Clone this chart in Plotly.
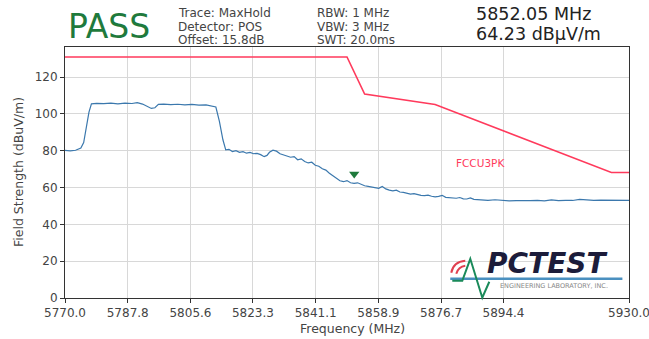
import plotly.graph_objects as go

# ---- data ----
trace_freq = [5770.0, 5771.5, 5773.0, 5774.5, 5775.3, 5776.0, 5776.8, 5777.5, 5779, 5781, 5783, 5785, 5787, 5789,
              5790.5, 5792, 5793.5, 5794.5, 5795.5, 5796.5, 5798, 5800, 5802, 5804, 5806, 5808, 5810, 5812, 5812.8,
              5813.8, 5814.8, 5815.6, 5816.5, 5817.5, 5818.5, 5819.5, 5820.5, 5821.5, 5822.5, 5823.5, 5824.5, 5825.5,
              5826.5, 5827.3, 5828, 5829, 5830, 5831, 5832, 5833, 5834, 5835, 5836, 5837, 5838, 5839, 5840, 5841,
              5842, 5843, 5844, 5845, 5846, 5847, 5848, 5849, 5850, 5851, 5852, 5853, 5854, 5855, 5856, 5857, 5858,
              5859, 5860, 5861, 5862, 5863, 5864, 5865, 5866, 5867, 5868, 5869, 5870, 5871, 5872, 5873, 5874, 5875,
              5876, 5877, 5878, 5879, 5880, 5881, 5882, 5883, 5884, 5885, 5886, 5887, 5888, 5890, 5892, 5894, 5896,
              5898, 5900, 5902, 5904, 5906, 5908, 5910, 5912, 5914, 5916, 5918, 5920, 5922, 5924, 5926, 5928, 5930]
trace_level = [80.2, 80.0, 80.3, 81.5, 84.5, 92, 101, 105.5, 105.8, 105.6, 105.9, 105.5, 105.9, 105.7,
               106.2, 105.4, 104.2, 103.0, 103.4, 105.2, 105.4, 105.1, 105.3, 104.9, 105.2, 104.8, 104.9, 104.2, 103.8,
               96, 86, 80.5, 80.8, 79.6, 80.1, 79.2, 79.5, 78.7, 79.1, 78.4, 78.6, 77.9,
               76.8, 77.5, 79.2, 80.3, 79.8, 78.4, 77.9, 77.2, 76.5, 76.8, 75.1, 75.6, 74.2, 73.4, 73.8, 72.1,
               71.6, 70.2, 69.5, 67.8, 66.4, 65.1, 63.7, 63.2, 63.8, 62.6, 62.3, 62.6, 61.7, 61.0, 60.7, 60.2, 59.9,
               59.6, 60.6, 59.3, 58.6, 58.2, 58.6, 57.6, 57.4, 57.0, 56.5, 56.7, 56.1, 55.8, 55.6, 55.9, 55.3, 55.0,
               55.2, 55.8, 54.7, 54.5, 54.3, 54.2, 54.6, 53.9, 53.8, 54.4, 53.6, 53.5, 53.3, 53.1, 53.4, 52.9, 52.8,
               52.9, 52.7, 52.9, 53.0, 52.8, 53.3, 52.9, 53.1, 53.0, 53.6, 53.1, 53.0, 53.2, 53.1, 53.0, 53.2, 53.1]

limit_freq = [5770, 5850, 5855, 5875, 5925, 5930]
limit_level = [131.0, 131.0, 110.8, 105.2, 68.2, 68.2]

marker_freq = [5852.05]
marker_level = [64.23]

xtick_vals = [5770.0, 5787.8, 5805.6, 5823.3, 5841.1, 5858.9, 5876.7, 5894.4, 5930.0]
xtick_text = ["5770.0", "5787.8", "5805.6", "5823.3", "5841.1", "5858.9", "5876.7", "5894.4", "5930.0"]
ytick_vals = [0, 20, 40, 60, 80, 100, 120]

header_left = ["Trace: MaxHold", "Detector: POS", "Offset: 15.8dB"]
header_mid = ["RBW: 1 MHz", "VBW: 3 MHz", "SWT: 20.0ms"]
header_right = ["5852.05 MHz", "64.23 dBµV/m"]

FONT = "DejaVu Sans"
L, R, T, B = 65, 628.6, 46.7, 298.3
fig = go.Figure()

fig.add_trace(go.Scatter(x=limit_freq, y=limit_level, mode="lines",
                         line=dict(color="#ff3a5c", width=1.6), hoverinfo="skip"))
fig.add_trace(go.Scatter(x=trace_freq, y=trace_level, mode="lines",
                         line=dict(color="#3b78ad", width=1.2)))
fig.add_trace(go.Scatter(x=marker_freq, y=[v + 3.2 for v in marker_level], mode="markers",
                         marker=dict(symbol="triangle-down", size=9, color="#1e7a3c")))

fig.update_layout(
    width=649, height=339,
    margin=dict(l=L, r=649 - R, t=T, b=339 - B, autoexpand=False),
    paper_bgcolor="white", plot_bgcolor="white",
    showlegend=False,
    font=dict(family=FONT, size=12, color="#444"),
)
fig.update_xaxes(range=[5770, 5930], tickvals=xtick_vals, ticktext=xtick_text, automargin=False,
                 ticklabeloverflow="allow",
                 showgrid=True, gridcolor="#d8d8d8", gridwidth=1,
                 showline=True, linecolor="#333", linewidth=1, mirror=True,
                 ticks="outside", ticklen=4, tickcolor="#333",
                 tickfont=dict(size=12, color="#444"),
                 zeroline=False)
fig.update_yaxes(range=[0, 136.4], tickvals=ytick_vals, automargin=False,
                 showgrid=True, gridcolor="#d8d8d8", gridwidth=1,
                 showline=True, linecolor="#333", linewidth=1, mirror=True,
                 ticks="outside", ticklen=4, tickcolor="#333",
                 tickfont=dict(size=12, color="#444"),
                 zeroline=False)

def px(x):
    return (x - L) / (R - L)

def py(y):
    return (B - y) / (B - T)

ann = [dict(text="PASS", x=px(66), y=py(26), xanchor="left", yanchor="middle",
            font=dict(size=33, color="#1f7a3c", family=FONT))]
for i, t in enumerate(header_left):
    ann.append(dict(text=t, x=px(177), y=py(13 + 13.5 * i), xanchor="left", yanchor="middle",
                    font=dict(size=12, color="#444", family=FONT), borderpad=0))
for i, t in enumerate(header_mid):
    ann.append(dict(text=t, x=px(316), y=py(13 + 13.5 * i), xanchor="left", yanchor="middle",
                    font=dict(size=12, color="#444", family=FONT), borderpad=0))
for i, t in enumerate(header_right):
    ann.append(dict(text=t, x=px(475), y=py(13.5 + 20 * i), xanchor="left", yanchor="middle",
                    font=dict(size=17.5, color="#222", family=FONT), borderpad=0))
ann.append(dict(text="Frequency (MHz)", x=px(352), y=py(329), xanchor="center", yanchor="middle",
                font=dict(size=12.5, color="#444", family=FONT), borderpad=0))
ann.append(dict(text="Field Strength (dBuV/m)", x=px(18), y=py(172), xanchor="center", yanchor="middle",
                textangle=-90, font=dict(size=12.5, color="#444", family=FONT)))
ann.append(dict(text="<b><i>PCTEST</i></b>", x=px(486), y=py(264), xanchor="left", yanchor="middle",
                font=dict(size=28, color="#1c1c3a", family=FONT), borderpad=0))
ann.append(dict(text="ENGINEERING LABORATORY, INC.", x=px(498), y=py(286), xanchor="left", yanchor="middle",
                font=dict(size=6.5, color="#888", family=FONT)))
fig.update_layout(annotations=[dict(a, xref="paper", yref="paper", showarrow=False) for a in ann])
fig.add_annotation(text="FCCU3PK", x=5887.8, y=73.1, xref="x", yref="y", showarrow=False,
                   font=dict(size=10.5, color="#ff3a5c", family=FONT))

shapes = [
    dict(type="line", x0=px(450), x1=px(622), y0=py(279), y1=py(279), line=dict(color="#4a90c0", width=2.5)),
    dict(type="path", path="M {} {} L {} {} L {} {} L {} {} L {} {}".format(
        px(452), py(281), px(462), py(281), px(470), py(259), px(482), py(298), px(489), py(282)),
        line=dict(color="#1a8a5a", width=2)),
    dict(type="path", path="M {} {} Q {} {} {} {}".format(px(451), py(273), px(453), py(262), px(465), py(261)),
         line=dict(color="#e04050", width=2)),
    dict(type="path", path="M {} {} Q {} {} {} {}".format(px(456), py(274), px(458), py(267), px(465), py(266)),
         line=dict(color="#e04050", width=2)),
]
fig.update_layout(shapes=[dict(s, xref="paper", yref="paper") for s in shapes])

fig.write_html("out.html", config={"displayModeBar": False},
               post_script="document.body.style.margin='0';document.body.style.padding='0';"
                           "document.body.style.overflow='hidden';")
